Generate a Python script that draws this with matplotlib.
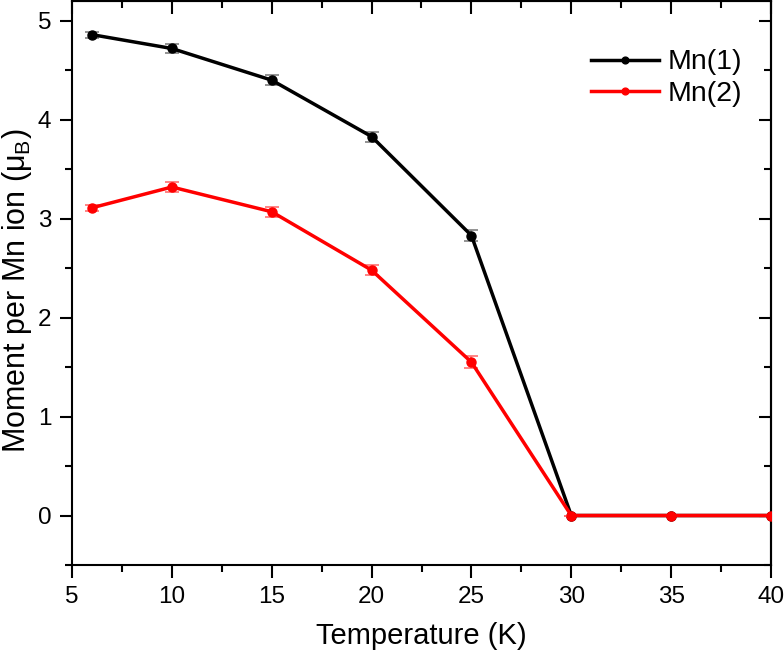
import matplotlib
matplotlib.use("Agg")
import matplotlib.pyplot as plt
from matplotlib.ticker import MultipleLocator

plt.rcParams['font.family'] = ['Liberation Sans', 'DejaVu Sans']
plt.rcParams['mathtext.fontset'] = 'custom'
plt.rcParams['mathtext.rm'] = 'Liberation Sans'
plt.rcParams['mathtext.it'] = 'Liberation Sans'

temperature = [6, 10, 15, 20, 25, 30, 35, 40]
mn1 = [4.86, 4.72, 4.40, 3.83, 2.83, 0.0, 0.0, 0.0]
mn1_err = [0.03, 0.05, 0.05, 0.05, 0.06, 0.0, 0.0, 0.0]
mn2 = [3.11, 3.32, 3.07, 2.48, 1.55, 0.0, 0.0, 0.0]
mn2_err = [0.03, 0.05, 0.05, 0.05, 0.06, 0.0, 0.0, 0.0]

fig = plt.figure(figsize=(7.84, 6.54), dpi=100)
ax = fig.add_axes([72/784, 89/654, 699/784, 564/654])

ax.errorbar(temperature, mn1, yerr=mn1_err, fmt='none', ecolor='#808080',
            elinewidth=1.2, capsize=5, capthick=1.2, zorder=2)
ax.plot(temperature, mn1, color='black', lw=2.5, marker='o', ms=6.5,
        label='Mn(1)', zorder=3)
ax.errorbar(temperature, mn2, yerr=mn2_err, fmt='none', ecolor='#ff7070',
            elinewidth=1.2, capsize=5, capthick=1.2, zorder=4)
ax.plot(temperature, mn2, color='#ff0000', lw=2.5, marker='o', ms=6.5,
        label='Mn(2)', zorder=5)

ax.set_xlim(5, 40)
ax.set_ylim(-0.5, 5.2)
ax.xaxis.set_major_locator(MultipleLocator(5))
ax.xaxis.set_minor_locator(MultipleLocator(2.5))
ax.yaxis.set_major_locator(MultipleLocator(1))
ax.yaxis.set_minor_locator(MultipleLocator(0.5))

for s in ax.spines.values():
    s.set_linewidth(1.5)

ax.tick_params(which='both', direction='out', width=1.5, labelsize=17.5, pad=6)
ax.tick_params(which='major', length=9)
ax.tick_params(which='minor', length=5)

# mirrored inward ticks on top/right
sec_x = ax.secondary_xaxis('top')
sec_x.xaxis.set_major_locator(MultipleLocator(5))
sec_x.xaxis.set_minor_locator(MultipleLocator(2.5))
sec_x.tick_params(which='both', direction='in', width=1.5, labeltop=False)
sec_x.tick_params(which='major', length=9)
sec_x.tick_params(which='minor', length=5)
sec_y = ax.secondary_yaxis('right')
sec_y.yaxis.set_major_locator(MultipleLocator(1))
sec_y.yaxis.set_minor_locator(MultipleLocator(0.5))
sec_y.tick_params(which='both', direction='in', width=1.5, labelright=False)
sec_y.tick_params(which='major', length=9)
sec_y.tick_params(which='minor', length=5)
for s in list(sec_x.spines.values()) + list(sec_y.spines.values()):
    s.set_linewidth(1.5)

ax.set_xlabel('Temperature (K)', fontsize=21, labelpad=10.5)
ax.set_ylabel(r'Moment per Mn ion ($\mu_\mathrm{B}$)', fontsize=22)
ax.yaxis.set_label_coords((34 - 72) / 699, (565 - 291) / 564)

ax.legend(loc='upper right', bbox_to_anchor=(1.0, 1.0 - 20 / 564),
          frameon=False, fontsize=20.5, handlelength=2.4,
          borderaxespad=0.6, labelspacing=0.2, handletextpad=0.32,
          markerscale=0.75)

fig.savefig('out.png', dpi=100)
